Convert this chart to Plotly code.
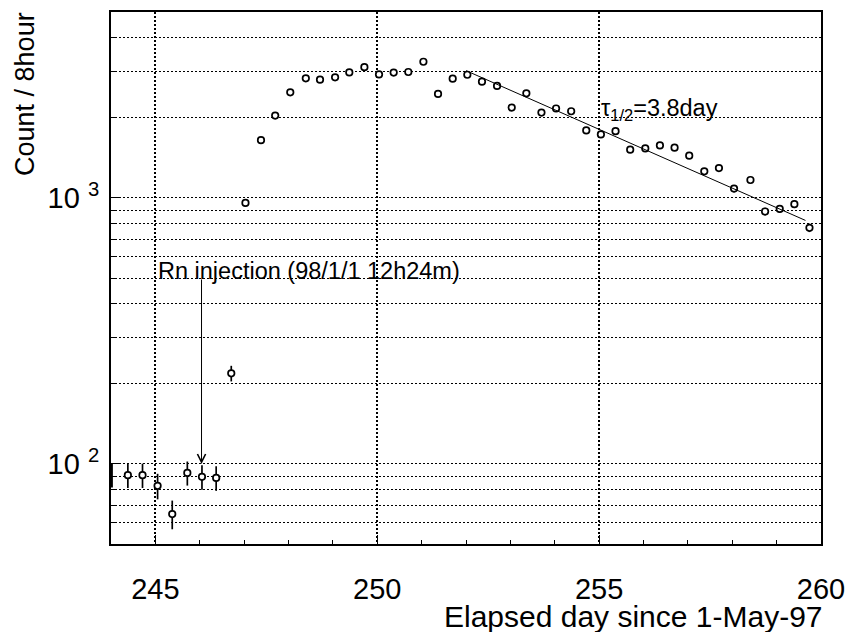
import math
import plotly.graph_objects as go

# ---- data ----
day = [244.38, 244.71, 245.05, 245.38, 245.72, 246.05, 246.37, 246.71,
       247.03, 247.38, 247.70, 248.04, 248.39, 248.71, 249.05, 249.37,
       249.71, 250.04, 250.37, 250.70, 251.04, 251.37, 251.70, 252.03,
       252.36, 252.70, 253.03, 253.36, 253.70, 254.03, 254.37, 254.71,
       255.04, 255.37, 255.70, 256.04, 256.37, 256.70, 257.03, 257.37,
       257.70, 258.04, 258.41, 258.74, 259.07, 259.40, 259.74]
count = [90.7, 90.7, 82.7, 64.8, 92.5, 89.4, 88.6, 219,
         958, 1649, 2040, 2495, 2815, 2783, 2841, 2964,
         3102, 2913, 2959, 2974, 3251, 2460, 2807, 2905,
         2735, 2636, 2186, 2474, 2094, 2169, 2118, 1793,
         1732, 1782, 1518, 1535, 1575, 1545, 1441, 1259,
         1295, 1084, 1168, 889, 909, 947, 772]
count_err = [9.5, 9.5, 9.1, 8.0, 9.6, 9.5, 9.4, 14.8,
             31, 41, 45, 50, 53, 53, 53, 54,
             56, 54, 54, 55, 57, 50, 53, 54,
             52, 51, 47, 50, 46, 47, 46, 42,
             42, 42, 39, 39, 40, 39, 38, 35,
             36, 33, 34, 30, 30, 31, 28]

# point sitting on the left frame (only its error bar is visible)
edge_day = [244.02]
edge_count = [91]
edge_err = [9.5]

# exponential fit (straight line on the log axis)
fit_day = [252.0, 259.65]
fit_count = [3010, 823]

x_ticks = [245, 250, 255, 260]
y_major = [100, 1000]
y_major_text = ["10 <sup>2</sup>", "10 <sup>3</sup>"]
y_minor = [60, 70, 80, 90, 200, 300, 400, 500, 600, 700, 800, 900,
           2000, 3000, 4000]

injection_day = 246.04
injection_label = "Rn injection (98/1/1 12h24m)"
halflife_label = "τ<sub>1/2</sub>=3.8day"

FONT = "Liberation Sans, Arial, Helvetica, sans-serif"
GRID_DASH = "2px,2px"

fig = go.Figure()

fig.add_trace(go.Scatter(
    x=edge_day, y=edge_count, mode="markers",
    marker=dict(size=6, opacity=0),
    error_y=dict(type="data", array=edge_err, color="black", thickness=2, width=0),
    showlegend=False, hoverinfo="skip"))

fig.add_trace(go.Scatter(
    x=day, y=count, mode="markers",
    marker=dict(symbol="circle", size=6.5, color="white",
                line=dict(color="black", width=1.7)),
    error_y=dict(type="data", array=count_err, color="black", thickness=1.7, width=0),
    showlegend=False))

fig.add_trace(go.Scatter(
    x=fit_day, y=fit_count, mode="lines",
    line=dict(color="black", width=1), showlegend=False))

fig.update_layout(
    width=854, height=632,
    margin=dict(l=103, r=41, t=2, b=96),
    paper_bgcolor="white", plot_bgcolor="white",
    font=dict(family=FONT, color="black"),
    xaxis=dict(
        range=[244, 260], tickvals=x_ticks,
        ticks="inside", ticklen=9, tickwidth=1, tickcolor="black",
        showgrid=True, gridcolor="black", griddash=GRID_DASH, gridwidth=1.5,
        showline=True, linewidth=2, linecolor="black", mirror=True,
        zeroline=False, tickfont=dict(size=29, family=FONT),
        ticklabelstandoff=18,
        minor=dict(dtick=1, ticks="inside", ticklen=4, tickcolor="black",
                   showgrid=False)),
    yaxis=dict(
        type="log", range=[math.log10(50), math.log10(5000)],
        tickvals=y_major, ticktext=y_major_text,
        ticks="inside", ticklen=10, tickwidth=1, tickcolor="black",
        showgrid=True, gridcolor="black", griddash=GRID_DASH, gridwidth=1,
        showline=True, linewidth=2, linecolor="black", mirror=True,
        zeroline=False, tickfont=dict(size=29, family=FONT),
        ticklabelstandoff=4,
        minor=dict(tickvals=y_minor, ticks="inside", ticklen=5,
                   tickcolor="black", showgrid=True, gridcolor="black",
                   griddash=GRID_DASH, gridwidth=1)),
    annotations=[
        dict(text="Elapsed day since 1-May-97", xref="paper", yref="paper",
             x=1.006, y=-0.136, xanchor="right", yanchor="middle",
             showarrow=False, font=dict(size=30, family=FONT)),
        dict(text="Count / 8hour", xref="paper", yref="paper",
             x=-0.121, y=1.004, xanchor="center", yanchor="top", textangle=-90,
             showarrow=False, font=dict(size=27, family=FONT)),
        dict(text=injection_label, xref="x", yref="y",
             x=245.02, y=math.log10(531), xanchor="left", yanchor="middle",
             showarrow=False, font=dict(size=23.5, family=FONT)),
        dict(text="", xref="x", yref="y", axref="x", ayref="y",
             x=injection_day, y=math.log10(100), ax=injection_day,
             ay=math.log10(500), showarrow=True, arrowhead=5, arrowsize=1.6,
             arrowwidth=1, arrowcolor="black", standoff=0, startstandoff=0),
        dict(text=halflife_label, xref="x", yref="y",
             x=254.99, y=math.log10(2150), xanchor="left", yanchor="middle",
             showarrow=False, font=dict(size=23.5, family=FONT)),
    ],
)

fig.write_html("out.html")
